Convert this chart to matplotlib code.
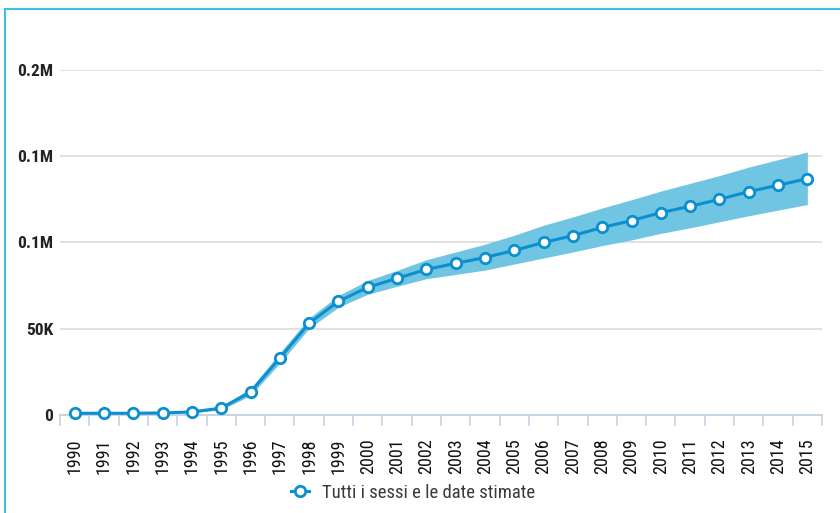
import matplotlib.pyplot as plt
from matplotlib.lines import Line2D

# estimated totals with uncertainty band, 1990-2015
years = list(range(1990, 2016))
estimate = [1000, 1000, 1000, 1200, 1800, 4000, 13300, 33000, 53200, 65900,
            74000, 79200, 84400, 87900, 91300, 95400, 100000, 104000, 108700,
            112700, 117300, 121000, 125000, 129500, 133200, 137000]
lower = [700, 700, 700, 900, 1300, 3000, 11300, 30000, 50200, 62500,
         70000, 74600, 79000, 81500, 84000, 87500, 91000, 94500, 98200,
         101500, 105300, 108500, 112000, 115500, 118800, 122000]
upper = [1300, 1300, 1300, 1500, 2300, 5000, 15300, 36000, 56200, 69300,
         78000, 83800, 90000, 94500, 99000, 104200, 110000, 114800, 120000,
         124800, 129800, 134300, 138800, 143700, 148000, 152500]
y_ticks = [0, 50000, 100000, 150000, 200000]
y_labels = ["0", "50K", "0.1M", "0.1M", "0.2M"]
legend_label = "Tutti i sessi e le date stimate"

plt.rcParams["font.family"] = ["Roboto Condensed", "DejaVu Sans"]

line_blue = "#0b8fcf"
band_blue = "#6fc5e2"
axis_blue = "#c5d5e6"

fig = plt.figure(figsize=(8.4, 5.13), dpi=100)
ax = fig.add_axes([60 / 840, 1 - 415 / 513, 762 / 840, 345 / 513])

x = list(range(len(years)))
ax.fill_between(x, lower, upper, color=band_blue, lw=0, zorder=2)
ax.plot(x, estimate, color=line_blue, lw=2.2, marker="o", ms=7.5,
        mfc="white", mec=line_blue, mew=2, zorder=3, clip_on=False)

ax.set_xlim(-0.5, len(years) - 0.5)
ax.set_ylim(0, 200000)

ax.set_yticks(y_ticks)
ax.set_yticklabels(y_labels, fontsize=12.5, fontweight="bold", color="#222222")
ax.tick_params(axis="y", length=0, pad=5)
ax.grid(axis="y", color="#dcdcdc", lw=1.2, zorder=0)
ax.set_axisbelow(True)

ax.set_xticks(x)
ax.set_xticklabels([str(y) for y in years], rotation=90, fontsize=13, color="#111111")
ax.set_xticks([i - 0.5 for i in range(len(years) + 1)], minor=True)
ax.tick_params(axis="x", which="major", length=0, pad=17)
ax.tick_params(axis="x", which="minor", length=8, color=axis_blue, width=1.2)

for side in ["top", "right", "left"]:
    ax.spines[side].set_visible(False)
ax.spines["bottom"].set_color(axis_blue)
ax.spines["bottom"].set_linewidth(1.5)

# thin cyan frame along the top and left edges
fig.add_artist(Line2D([5 / 840, 1], [1 - 9 / 513, 1 - 9 / 513], color="#3cc0e2", lw=1.5))
fig.add_artist(Line2D([5 / 840, 5 / 840], [0, 1 - 9 / 513], color="#3cc0e2", lw=1.5))

handle = Line2D([], [], color=line_blue, lw=2.2, marker="o", ms=7.5,
                mfc="white", mec=line_blue, mew=2)
fig.legend([handle], [legend_label], loc="center", bbox_to_anchor=(413 / 840, 1 - 493 / 513),
           frameon=False, handlelength=1.0, handletextpad=0.7,
           prop={"size": 13.5}, labelcolor="#3a3a3a")

fig.savefig("out.png", dpi=100)
